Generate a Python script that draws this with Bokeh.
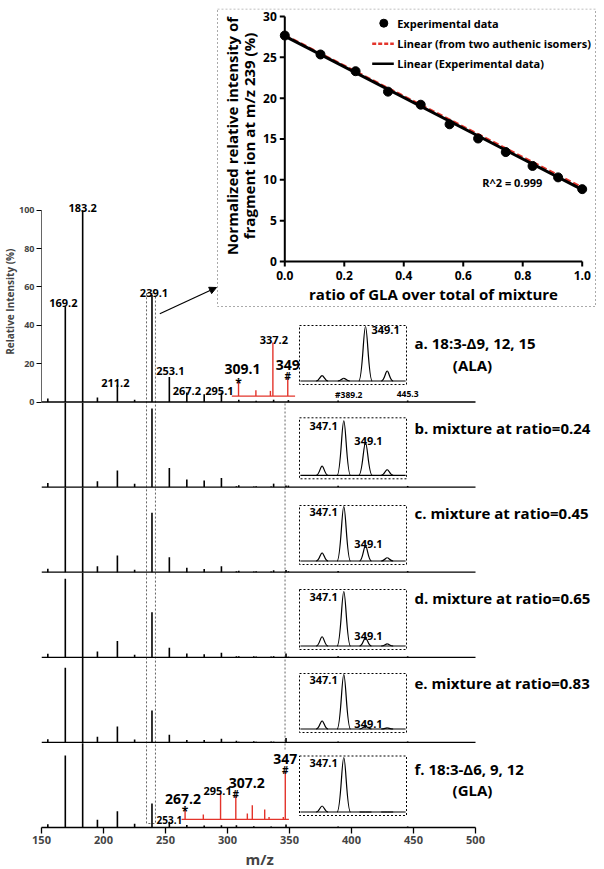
from math import pi
from bokeh.plotting import figure
from bokeh.models import Range1d, LinearAxis, FixedTicker, Title, Arrow, NormalHead
from bokeh.core.properties import value
from bokeh.embed import file_html
from bokeh.resources import INLINE

FONT = "Open Sans"
RED = "#e3342b"

# ======================= DATA =======================
# Inset: normalized relative intensity of fragment m/z 239 vs ratio of GLA
gla_ratio = [0.0, 0.12, 0.238, 0.347, 0.457, 0.554, 0.65, 0.743, 0.833, 0.919, 1.0]
norm_239 = [27.67, 25.35, 23.3, 20.8, 19.2, 16.8, 15.06, 13.4, 11.7, 10.3, 8.86]
norm_239_err = [0.2, 0.15, 0.15, 0.3, 0.5, 0.25, 0.3, 0.6, 0.2, 0.2, 0.15]
fit_x = [0.0, 1.0]
fit_experimental = [27.6, 8.8]
fit_authentic = [27.7, 9.05]
ratio_ticks = [0.0, 0.2, 0.4, 0.6, 0.8, 1.0]
ratio_tick_labels = ["0.0", "0.2", "0.4", "0.6", "0.8", "1.0"]
norm_ticks = [0, 5, 10, 15, 20, 25, 30]
norm_tick_labels = ["0", "5", "10", "15", "20", "25", "30"]
legend_labels = ["Experimental data", "Linear (from two authenic isomers)", "Linear (Experimental data)"]
r2_label = "R^2 = 0.999"
inset_x_title = "ratio of GLA over total of mixture"
inset_y_title = ["Normalized relative intensity of", "fragment ion at m/z 239 (%)"]

# Main spectra
mz_ticks = [150, 200, 250, 300, 350, 400, 450, 500]
rel_ticks = [0, 20, 40, 60, 80, 100]
panel_ids = ["a", "b", "c", "d", "e", "f"]
panel_title_1 = ["a. 18:3-\u03949, 12, 15", "b. mixture at ratio=0.24", "c. mixture at ratio=0.45",
                 "d. mixture at ratio=0.65", "e. mixture at ratio=0.83", "f. 18:3-\u03946, 9, 12"]
panel_title_2 = ["(ALA)", "", "", "", "", "(GLA)"]

peak_mz = [155.1, 169.2, 183.2, 195.1, 211.2, 225.1, 239.1, 253.1, 267.2, 281.2, 295.1,
           307.2, 309.1, 321.2, 323.1, 335.2, 337.2, 347.2, 349.1, 389.2, 445.3]
int_a = [1.8, 50, 100, 2.3, 9.0, 1.2, 56, 13, 4.9, 4.0, 4.9, 0.0, 1.2, 0.0, 0.6, 0.0, 1.2, 0.0, 1.0, 0.8, 0.8]
int_b = [2.1, 46, 100, 3.1, 8.7, 1.8, 41, 9.9, 3.9, 3.5, 4.7, 0.4, 0.9, 0.3, 0.5, 0.3, 1.8, 0.8, 0.8, 0.7, 0.6]
int_c = [1.8, 44, 100, 3.1, 8.7, 1.3, 31, 7.8, 2.3, 1.7, 3.1, 0.5, 0.7, 0.4, 0.5, 0.4, 1.0, 1.2, 0.5, 0.6, 0.6]
int_d = [1.8, 41, 100, 3.0, 8.5, 1.3, 23.5, 5.0, 2.0, 1.6, 2.4, 0.6, 0.5, 0.5, 0.4, 0.4, 0.6, 2.0, 0.3, 0.5, 0.5]
int_e = [1.6, 39, 100, 3.0, 8.3, 1.5, 16.7, 4.0, 1.3, 1.3, 1.9, 0.8, 0.4, 0.6, 0.3, 0.5, 0.4, 2.3, 0.2, 0.5, 0.5]
int_f = [1.7, 37.5, 100, 4.0, 8.5, 2.0, 12.5, 3.0, 1.3, 1.0, 1.2, 1.2, 0.0, 0.6, 0.0, 0.5, 0.0, 1.5, 0.0, 0.5, 0.5]
intensities = {"a": int_a, "b": int_b, "c": int_c, "d": int_d, "e": int_e, "f": int_f}

# Magnified (red) regions of spectra a and f
zoom_a_span = [303.5, 354.5]
zoom_a_level = 3.1
zoom_a_mz = [308.9, 322.9, 334.6, 336.6, 348.6]
zoom_a_int = [11.3, 6.1, 5.8, 31.0, 12.5]
zoom_f_span = [263.0, 349.5]
zoom_f_level = 4.2
zoom_f_mz = [265.8, 280.5, 294.4, 306.7, 316.0, 320.0, 330.0, 333.5, 345.0, 346.6]
zoom_f_int = [9.9, 6.8, 18.0, 16.3, 7.3, 11.6, 9.4, 5.5, 5.5, 29.0]
zooms = {"a": (zoom_a_span, zoom_a_level, zoom_a_mz, zoom_a_int),
         "f": (zoom_f_span, zoom_f_level, zoom_f_mz, zoom_f_int)}

# Small inset spectra (m/z 343-353 window), % of the largest peak
iso_mz = [345.1, 347.1, 349.1, 351.1]
iso_a = [10, 5, 100, 18]
iso_b = [17, 100, 60, 10.5]
iso_c = [15, 100, 28, 6]
iso_d = [17, 100, 15, 4]
iso_e = [15, 100, 5, 2]
iso_f = [11, 100, 0, 0]
isos = {"a": iso_a, "b": iso_b, "c": iso_c, "d": iso_d, "e": iso_e, "f": iso_f}

# ======================= LAYOUT (page pixels) =======================
FL, FT, FW, FH = 41, 8, 555, 819
FB = FT + FH
MZ_K = 1.24          # px per m/z unit
S = 1.917            # px per % in spectra panels
GAP = 85.1           # vertical distance between panel baselines
base_page = [FB - GAP * (5 - i) for i in range(6)]
CLIP = GAP / S - 0.4
box_top = [325, 417.3, 505, 589, 673, 755.5]
box_bot = [384, 478.3, 564, 649, 732, 815]
BOX_L, BOX_R = 299, 406


def xr(p0, k):
    return Range1d(start=(FL - p0) / k, end=(FL + FW - p0) / k)


def yr(p0, k):
    return Range1d(start=(p0 - FB) / k, end=(p0 - FT) / k)


p = figure(frame_width=FW, frame_height=FH,
           x_range=xr(FL - 150 * MZ_K, MZ_K), y_range=Range1d(start=FB, end=FT),
           y_axis_type=None, output_backend="svg", toolbar_location=None,
           min_border_left=FL, min_border_right=0, min_border_top=FT, min_border_bottom=0)
p.title.visible = False
p.outline_line_color = None
p.xgrid.visible = False
p.background_fill_color = "white"
p.border_fill_color = "white"

p.extra_x_ranges = {"px": xr(0, 1), "ix": xr(284.3, 297.4), "sx": xr(343.3 - 347.1 * 10.85, 10.85)}
yranges = {"iy": yr(261, 8.1667)}
for i, pid in enumerate(panel_ids):
    yranges["p" + pid] = yr(base_page[i], S)
    yranges["s" + pid] = yr(box_bot[i] - 3.5, 0.545)
p.extra_y_ranges = yranges


def txt(x, y, t, size, align="center", baseline="middle", xn=None, yn=None, angle=0.0,
        dx=0, dy=0, color="black", style="bold"):
    kw = {}
    if xn:
        kw["x_range_name"] = xn
    if yn:
        kw["y_range_name"] = yn
    p.text(x=list(x), y=list(y), text=list(t), text_font=value(FONT), text_font_size=f"{size}px",
           text_font_style=style, text_align=align, text_baseline=baseline, angle=angle,
           x_offset=dx, y_offset=dy, text_color=color, **kw)


# ---- main x axis (bottom) ----
ax = p.xaxis[0]
ax.bounds = (150, 500)
ax.ticker = FixedTicker(ticks=mz_ticks)
ax.major_tick_out = 6
ax.major_tick_in = 0
ax.minor_tick_out = 0
ax.minor_tick_in = 0
ax.axis_line_width = 1.3
ax.major_tick_line_width = 1.3
ax.major_label_standoff = 2
ax.major_label_text_font = FONT
ax.major_label_text_font_size = "11px"
ax.major_label_text_font_style = "bold"
p.add_layout(Title(text="m/z", align="left", offset=204, standoff=0, text_font=FONT,
                   text_font_size="15px", text_font_style="bold"), "below")

# ---- left axis (panel a only) ----
lax = LinearAxis(y_range_name="pa", bounds=(0, 100), ticker=FixedTicker(ticks=rel_ticks),
                 major_tick_out=5, major_tick_in=0, minor_tick_out=0, minor_tick_in=0,
                 major_label_standoff=2, axis_line_color="#666666", axis_line_width=1,
                 major_label_text_font=FONT, major_label_text_font_size="9px",
                 major_label_text_font_style="bold")
p.add_layout(lax, "left")
p.add_layout(Title(text="Relative Intensity (%)", align="right", offset=240, standoff=0,
                   text_font=FONT, text_font_size="10px", text_font_style="bold"), "left")

# ---- dashed guides ----
p.quad(left=[234.7], right=[241.9], top=[293], bottom=[823], fill_color=None,
       line_color="#666666", line_dash="2 2", line_width=1)
p.segment(x0=[346.4], y0=[403], x1=[346.4], y1=[750], line_color="#666666", line_dash="2 2", line_width=1)

# ---- spectra ----
for i, pid in enumerate(panel_ids):
    yn = "p" + pid
    vals = intensities[pid]
    h = vals if i == 0 else [min(v, CLIP) for v in vals]
    if i < 5:
        p.segment(x0=[mz_ticks[0]], y0=[0], x1=[mz_ticks[-1]], y1=[0], line_color="black",
                  line_width=1.3, y_range_name=yn)
    p.segment(x0=peak_mz, y0=[0] * len(peak_mz), x1=peak_mz, y1=h, line_color="black",
              line_width=1.6, y_range_name=yn)
    if pid in zooms:
        span, lvl, zmz, zint = zooms[pid]
        p.segment(x0=[span[0]], y0=[lvl], x1=[span[1]], y1=[lvl], line_color=RED, line_width=1.3,
                  y_range_name=yn)
        p.segment(x0=zmz, y0=[lvl] * len(zmz), x1=zmz, y1=zint, line_color=RED, line_width=1.4,
                  y_range_name=yn)

    # inset box with the m/z 347/349 window
    p.quad(left=[BOX_L], right=[BOX_R], top=[box_top[i]], bottom=[box_bot[i]], x_range_name="px",
           fill_color="white", line_color="black", line_dash="2 2", line_width=1)
    sy = "s" + pid
    hv = isos[pid]
    p.segment(x0=[343.1], y0=[0], x1=[352.8], y1=[0], line_color="black", line_width=1.2,
              x_range_name="sx", y_range_name=sy)
    w = [0.62 if v >= 50 else 0.55 for v in hv]
    c = iso_mz
    p.bezier(x0=[c[k] - w[k] for k in range(4)], y0=[0] * 4, x1=c, y1=hv,
             cx0=[c[k] - 0.45 * w[k] for k in range(4)], cy0=[0] * 4,
             cx1=[c[k] - 0.3 * w[k] for k in range(4)], cy1=hv,
             line_color="black", line_width=1.2, x_range_name="sx", y_range_name=sy)
    p.bezier(x0=[c[k] + w[k] for k in range(4)], y0=[0] * 4, x1=c, y1=hv,
             cx0=[c[k] + 0.45 * w[k] for k in range(4)], cy0=[0] * 4,
             cx1=[c[k] + 0.3 * w[k] for k in range(4)], cy1=hv,
             line_color="black", line_width=1.2, x_range_name="sx", y_range_name=sy)
    if pid == "a":
        txt([349.1], [94], ["349.1"], 11, align="left", dx=6, xn="sx", yn=sy)
    else:
        txt([347.1], [90], ["347.1"], 11, align="right", dx=-6, xn="sx", yn=sy)
        if hv[2] > 0:
            txt([349.1], [hv[2]], ["349.1"], 11, align="center", baseline="alphabetic", dx=3, dy=-2,
                xn="sx", yn=sy)

    # panel titles
    txt([414], [base_page[i] - 59], [panel_title_1[i]], 15, align="left", xn="px")
    if panel_title_2[i]:
        txt([472], [base_page[i] - 37.5], [panel_title_2[i]], 15, align="center", xn="px")

# ---- peak labels ----
label_spec = [
    ("a", "main", 169.2, "169.2", 11, -2, 3), ("a", "main", 183.2, "183.2", 11, 0, 2),
    ("a", "main", 239.1, "239.1", 11, 2, 2), ("a", "main", 211.2, "211.2", 11, -2, 2),
    ("a", "main", 253.1, "253.1", 11, 1, 6), ("a", "main", 267.2, "267.2", 11, 0, 2),
    ("a", "main", 295.1, "295.1", 11, -2, 2),
    ("a", "zoom", 308.9, "*", 12, 0, -3), ("a", "zoom", 308.9, "309.1", 14, 4, 11),
    ("a", "zoom", 336.6, "337.2", 11, 1, 3),
    ("a", "zoom", 348.6, "#", 10, 0, 2), ("a", "zoom", 348.6, "349", 14, 0, 13),
    ("f", "zoom", 265.8, "*", 12, 0, -3), ("f", "zoom", 265.8, "267.2", 14, -2, 10),
    ("f", "zoom", 294.4, "295.1", 11, -3, 2),
    ("f", "zoom", 306.7, "#", 10, 0, 2), ("f", "zoom", 306.7, "307.2", 14, 11, 13),
    ("f", "zoom", 346.6, "#", 10, 0, 2), ("f", "zoom", 346.6, "347", 14, 0, 13),
    ("f", "main", 253.1, "253.1", 10, 0, 2),
]
for pid, series, mz, t, size, dx, gap in label_spec:
    if series == "main":
        hval = intensities[pid][peak_mz.index(mz)]
    else:
        hval = zooms[pid][3][zooms[pid][2].index(mz)]
    txt([mz], [hval], [t], size, align="center", baseline="alphabetic", dx=dx, dy=-gap, yn="p" + pid)
txt([389.2], [0], ["#389.2"], 8.5, align="left", dx=-3, dy=-8, yn="pa")
txt([445.3], [0], ["445.3"], 8.5, align="center", dy=-8, yn="pa")

# ======================= TOP INSET CHART =======================
p.quad(left=[217], right=[595], top=[8.5], bottom=[306], x_range_name="px", fill_color="white",
       line_color="#aaaaaa", line_dash="2 2", line_width=1)
IX = dict(x_range_name="ix", y_range_name="iy")
p.segment(x0=[0], y0=[0], x1=[0], y1=[norm_ticks[-1]], line_color="black", line_width=2, **IX)
p.segment(x0=[0], y0=[0], x1=[ratio_ticks[-1]], y1=[0], line_color="black", line_width=2, **IX)
p.ray(x=[0] * len(norm_ticks), y=norm_ticks, length=5, length_units="screen", angle=pi,
      line_color="black", line_width=2, **IX)
p.ray(x=ratio_ticks, y=[0] * len(ratio_ticks), length=5, length_units="screen", angle=-pi / 2,
      line_color="black", line_width=2, **IX)
txt([0] * len(norm_ticks), norm_ticks, norm_tick_labels, 12, align="right", dx=-8, xn="ix", yn="iy")
txt(ratio_ticks, [0] * len(ratio_ticks), ratio_tick_labels, 12, align="center", baseline="top", dy=9,
    xn="ix", yn="iy")
txt([0.5], [0], [inset_x_title], 15, align="center", dy=32, xn="ix", yn="iy")
txt([0], [15], [inset_y_title[0]], 15, align="center", angle=pi / 2, dx=-53, dy=-3, xn="ix", yn="iy")
txt([0], [15], [inset_y_title[1]], 15, align="center", angle=pi / 2, dx=-36, dy=-3, xn="ix", yn="iy")

p.line(fit_x, fit_authentic, line_color=RED, line_width=2.5, line_dash="6 3", **IX)
p.line(fit_x, fit_experimental, line_color="black", line_width=3, **IX)
p.segment(x0=gla_ratio, y0=[v - e for v, e in zip(norm_239, norm_239_err)], x1=gla_ratio,
          y1=[v + e for v, e in zip(norm_239, norm_239_err)], line_color="#777777", line_width=1, **IX)
p.scatter(gla_ratio, norm_239, size=9, marker="circle", fill_color="black", line_color="black", **IX)

# legend (drawn manually)
p.scatter([383.3], [22.7], size=8, marker="circle", fill_color="black", line_color="black", x_range_name="px")
p.segment(x0=[371.7], y0=[43.3], x1=[393.3], y1=[43.3], line_color=RED, line_width=2.5, line_dash="4 2",
          x_range_name="px")
p.segment(x0=[371.7], y0=[63.3], x1=[393.3], y1=[63.3], line_color="black", line_width=2.5, x_range_name="px")
txt([396.7] * 3, [22.7, 43.3, 63.3], legend_labels, 11, align="left", xn="px")
txt([481.7], [181.7], [r2_label], 11, align="left", xn="px")

# arrow from the m/z 239 peak to the inset
p.add_layout(Arrow(end=NormalHead(size=7, line_color="black", fill_color="black"),
                   x_start=159.3, y_start=313.3, x_end=216, y_end=287, x_range_name="px",
                   line_color="black", line_width=1.2))

open("out.html", "w").write(file_html(p, INLINE))
